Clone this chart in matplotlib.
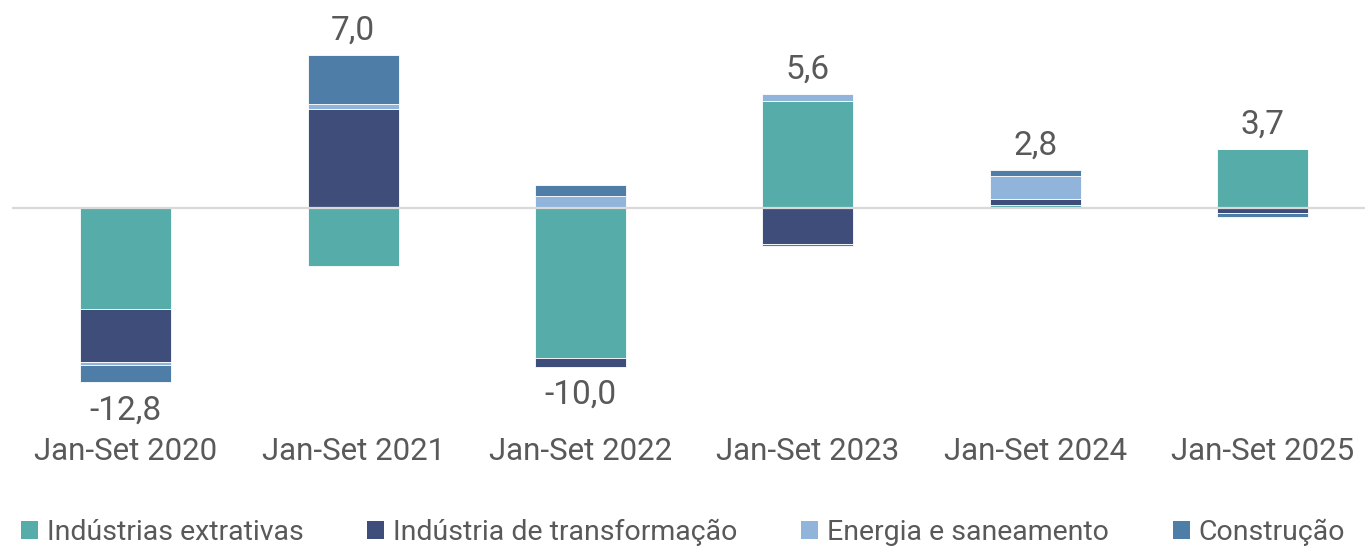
import matplotlib
matplotlib.use("Agg")
import matplotlib.pyplot as plt
import numpy as np
from matplotlib.patches import Patch

plt.rcParams['font.family'] = ['Roboto', 'DejaVu Sans']

categories = ["Jan-Set 2020", "Jan-Set 2021", "Jan-Set 2022", "Jan-Set 2023", "Jan-Set 2024", "Jan-Set 2025"]
series_names = ["Indústrias extrativas", "Indústria de transformação", "Energia e saneamento", "Construção"]
extrativas = [-7.40, -4.27, -11.00, 7.90, 0.20, 4.34]
transformacao = [-3.90, 7.30, -0.66, -2.67, 0.49, -0.34]
energia = [-0.25, 0.32, 0.90, 0.49, 1.67, 0.00]
construcao = [-1.25, 3.65, 0.79, -0.12, 0.44, -0.29]
totals = [-12.8, 7.0, -10.0, 5.6, 2.8, 3.7]
total_labels = ["-12,8", "7,0", "-10,0", "5,6", "2,8", "3,7"]

colors = ["#55ACA8", "#3E4D7A", "#91B4DA", "#4E7DA8"]
text_color = "#595959"

W, H = 1366, 548
fig = plt.figure(figsize=(W / 100, H / 100), dpi=100)
ax = fig.add_axes([12 / W, 1 - 420 / H, (1365 - 12) / W, 400 / H])

x = np.arange(len(categories))
data = [extrativas, transformacao, energia, construcao]
pos_base = np.zeros(len(categories))
neg_base = np.zeros(len(categories))
for vals, col, name in zip(data, colors, series_names):
    v = np.array(vals, dtype=float)
    bottoms = np.where(v >= 0, pos_base, neg_base)
    ax.bar(x, v, 0.4, bottom=bottoms, color=col, edgecolor="white", linewidth=0.6, label=name, zorder=2)
    pos_base = pos_base + np.where(v >= 0, v, 0)
    neg_base = neg_base + np.where(v < 0, v, 0)

ax.axhline(0, color="#D9D9D9", linewidth=1.6, zorder=3)

for i, (t, lab) in enumerate(zip(totals, total_labels)):
    if t >= 0:
        ax.annotate(lab, (x[i], pos_base[i]), xytext=(0, 6), textcoords="offset points",
                    ha="center", va="bottom", fontsize=24, color=text_color)
    else:
        ax.annotate(lab, (x[i], neg_base[i]), xytext=(0, -9), textcoords="offset points",
                    ha="center", va="top", fontsize=24, color=text_color)

ax.set_xlim(-0.5, 5.45)
ax.set_ylim(-15.59, 13.82)
ax.set_yticks([])
ax.set_xticks(x)
ax.set_xticklabels(categories, fontsize=22.5, color=text_color)
ax.tick_params(axis="x", length=0, pad=12)
for s in ax.spines.values():
    s.set_visible(False)

handles = [Patch(facecolor=c, edgecolor="none") for c in colors]
fig.legend(handles, series_names, loc="center", bbox_to_anchor=(0.5, 1 - 532 / H), ncol=4,
           frameon=False, fontsize=20.5, labelcolor=text_color, handlelength=0.6, handleheight=0.6,
           handletextpad=0.3, columnspacing=2.25, borderpad=0)

fig.savefig("out.png", dpi=100)
